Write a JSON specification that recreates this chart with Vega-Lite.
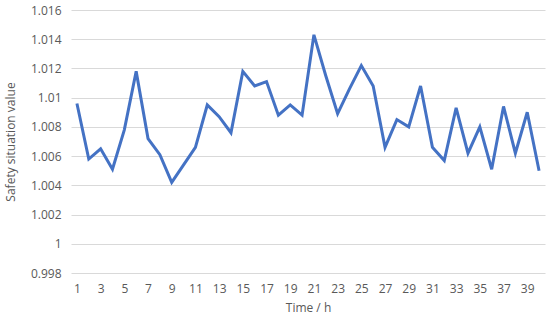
{
  "$schema": "https://vega.github.io/schema/vega-lite/v6.json",
  "width": 550,
  "height": 324,
  "autosize": {"type": "fit", "contains": "padding"},
  "padding": {"left": 4, "top": 4, "right": 5, "bottom": 11},
  "background": "white",
  "config": {"view": {"stroke": null}, "font": "Open Sans"},
  "data": {"values": [
    {"t": 1, "v": 1.0096}, {"t": 2, "v": 1.0058}, {"t": 3, "v": 1.0065}, {"t": 4, "v": 1.0051},
    {"t": 5, "v": 1.0078}, {"t": 6, "v": 1.0118}, {"t": 7, "v": 1.0072}, {"t": 8, "v": 1.0061},
    {"t": 9, "v": 1.0042}, {"t": 10, "v": 1.0054}, {"t": 11, "v": 1.0066}, {"t": 12, "v": 1.0095},
    {"t": 13, "v": 1.0087}, {"t": 14, "v": 1.0076}, {"t": 15, "v": 1.0118}, {"t": 16, "v": 1.0108},
    {"t": 17, "v": 1.0111}, {"t": 18, "v": 1.0088}, {"t": 19, "v": 1.0095}, {"t": 20, "v": 1.0088},
    {"t": 21, "v": 1.0143}, {"t": 22, "v": 1.0115}, {"t": 23, "v": 1.0089}, {"t": 24, "v": 1.0106},
    {"t": 25, "v": 1.0122}, {"t": 26, "v": 1.0108}, {"t": 27, "v": 1.0066}, {"t": 28, "v": 1.0085},
    {"t": 29, "v": 1.0080}, {"t": 30, "v": 1.0108}, {"t": 31, "v": 1.0066}, {"t": 32, "v": 1.0057},
    {"t": 33, "v": 1.0093}, {"t": 34, "v": 1.0062}, {"t": 35, "v": 1.0080}, {"t": 36, "v": 1.0051},
    {"t": 37, "v": 1.0094}, {"t": 38, "v": 1.0062}, {"t": 39, "v": 1.0090}, {"t": 40, "v": 1.0050}
  ]},
  "mark": {"type": "line", "color": "#4472C4", "strokeWidth": 3, "strokeJoin": "miter"},
  "encoding": {
    "x": {
      "field": "t", "type": "quantitative",
      "scale": {"domain": [0.5, 40.5], "nice": false, "zero": false},
      "axis": {
        "values": [1,3,5,7,9,11,13,15,17,19,21,23,25,27,29,31,33,35,37,39],
        "title": "Time / h", "grid": false, "domain": false, "ticks": false,
        "labelPadding": 10, "labelFontSize": 12, "labelColor": "#595959",
        "titleFontSize": 12, "titleColor": "#595959", "titleFontWeight": "normal", "titlePadding": 8
      }
    },
    "y": {
      "field": "v", "type": "quantitative",
      "scale": {"domain": [0.998, 1.016], "nice": false, "zero": false},
      "axis": {
        "values": [0.998, 1, 1.002, 1.004, 1.006, 1.008, 1.01, 1.012, 1.014, 1.016],
        "format": ".6~g",
        "title": "Safety  situation  value", "domain": false, "ticks": false,
        "gridColor": "#d9d9d9", "gridWidth": 1,
        "labelPadding": 10, "labelFontSize": 12, "labelColor": "#595959",
        "titleFontSize": 12, "titleColor": "#595959", "titleFontWeight": "normal", "titlePadding": 13
      }
    }
  }
}
